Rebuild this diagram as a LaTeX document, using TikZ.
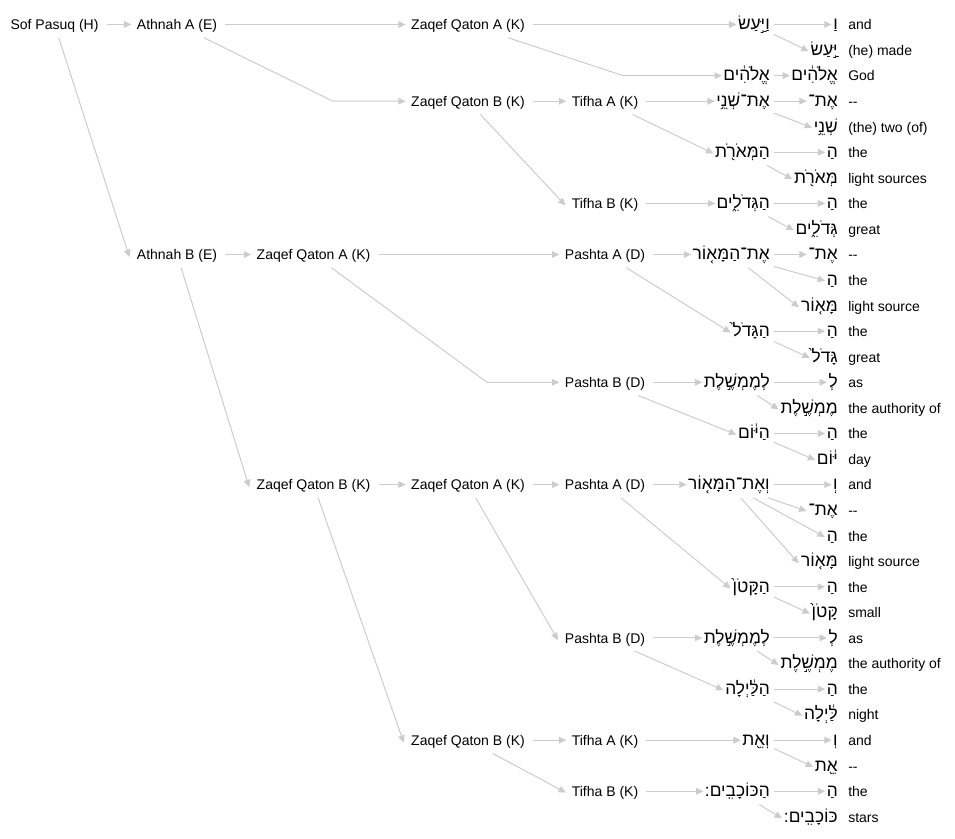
\documentclass[tikz,border=0pt]{standalone}
\usepackage{fontspec}
\setmainfont{Liberation Sans}
\newfontfamily\hebfont[Script=Hebrew]{Liberation Sans}
\TeXXeTstate=1
\usepackage{tikz}
\usetikzlibrary{
  arrows.meta,
  positioning
}
\newcommand{\hw}[1]{\beginR#1\endR}

\begin{document}
\begin{tikzpicture}[
      x=0.75pt, y=-0.75pt,
      >={Triangle[length=5.5pt,width=5pt]},
      lab/.style={inner xsep=6pt, inner ysep=0pt, minimum height=19.5pt, text height=9.5pt, text depth=1.5pt, font=\fontsize{10.5}{12}\selectfont},
      heb/.style={lab, inner xsep=3pt, font=\fontsize{13}{15}\hebfont},
      gloss/.style={inner sep=0pt, text height=9.5pt, text depth=1.5pt, font=\fontsize{10.5}{12}\selectfont},
      edge/.style={->, draw=gray!40, line width=0.75pt, shorten >=-2pt}
  ]
      \useasboundingbox (0,0) rectangle (955,838);

      % Acentos (arvore)
      \node[lab] (sof) at (54.5,24.5) {Sof Pasuq (H)};
      \node[lab] (athA) at (177,24.5) {Athnah A (E)};
      \node[lab] (athB) at (177,254.5) {Athnah B (E)};
      \node[lab] (zqA1) at (468,24.5) {Zaqef Qaton A (K)};
      \node[lab] (zqB1) at (468,101.2) {Zaqef Qaton B (K)};
      \node[lab] (tifA1) at (605,101.2) {Tifha A (K)};
      \node[lab] (tifB1) at (605,203.4) {Tifha B (K)};
      \node[lab] (zqA2) at (313.5,254.5) {Zaqef Qaton A (K)};
      \node[lab] (pasA1) at (605,254.5) {Pashta A (D)};
      \node[lab] (pasB1) at (605,382.3) {Pashta B (D)};
      \node[lab] (zqB2) at (313.5,484.6) {Zaqef Qaton B (K)};
      \node[lab] (zqA3) at (468,484.6) {Zaqef Qaton A (K)};
      \node[lab] (pasA2) at (605,484.6) {Pashta A (D)};
      \node[lab] (pasB2) at (605,637.9) {Pashta B (D)};
      \node[lab] (zqB3) at (468,740.2) {Zaqef Qaton B (K)};
      \node[lab] (tifA2) at (605,740.2) {Tifha A (K)};
      \node[lab] (tifB2) at (605,791.3) {Tifha B (K)};

      % Palavras
      \node[heb, anchor=east] (w1) at (774,24.5) {\hw{וַיַּ֣עַשׂ}};
      \node[heb, anchor=east] (w2) at (774,75.6) {\hw{אֱלֹהִ֔ים}};
      \node[heb, anchor=east] (w3) at (774,101.2) {\hw{אֶת־שְׁנֵ֥י}};
      \node[heb, anchor=east] (w4) at (774,152.3) {\hw{הַמְּאֹרֹ֖ת}};
      \node[heb, anchor=east] (w5) at (774,203.4) {\hw{הַגְּדֹלִ֑ים}};
      \node[heb, anchor=east] (w6) at (774,254.5) {\hw{אֶת־הַמָּא֤וֹר}};
      \node[heb, anchor=east] (w7) at (774,331.2) {\hw{הַגָּדֹל֙}};
      \node[heb, anchor=east] (w8) at (774,382.3) {\hw{לְמֶמְשֶׁ֣לֶת}};
      \node[heb, anchor=east] (w9) at (774,433.5) {\hw{הַיּ֔וֹם}};
      \node[heb, anchor=east] (w10) at (774,484.6) {\hw{וְאֶת־הַמָּא֤וֹר}};
      \node[heb, anchor=east] (w11) at (774,586.8) {\hw{הַקָּטֹן֙}};
      \node[heb, anchor=east] (w12) at (774,637.9) {\hw{לְמֶמְשֶׁ֣לֶת}};
      \node[heb, anchor=east] (w13) at (774,689.1) {\hw{הַלַּ֔יְלָה}};
      \node[heb, anchor=east] (w14) at (774,740.2) {\hw{וְאֵ֖ת}};
      \node[heb, anchor=east] (w15) at (774,791.3) {\hw{הַכּוֹכָבִֽים:}};

      % Morfemas e glosas
      \node[heb, anchor=east] (m0) at (842,24.5) {\hw{וַ}};
      \node[gloss, right=4.5pt of m0] (g0) {and};
      \node[heb, anchor=east] (m1) at (842,50.1) {\hw{יַּ֣עַשׂ}};
      \node[gloss, right=4.5pt of m1] (g1) {(he) made};
      \node[heb, anchor=east] (m2) at (842,75.6) {\hw{אֱלֹהִ֔ים}};
      \node[gloss, right=4.5pt of m2] (g2) {God};
      \node[heb, anchor=east] (m3) at (842,101.2) {\hw{אֶת־}};
      \node[gloss, right=4.5pt of m3] (g3) {{-}{-}};
      \node[heb, anchor=east] (m4) at (842,126.7) {\hw{שְׁנֵ֥י}};
      \node[gloss, right=4.5pt of m4] (g4) {(the) two (of)};
      \node[heb, anchor=east] (m5) at (842,152.3) {\hw{הַ}};
      \node[gloss, right=4.5pt of m5] (g5) {the};
      \node[heb, anchor=east] (m6) at (842,177.9) {\hw{מְּאֹרֹ֖ת}};
      \node[gloss, right=4.5pt of m6] (g6) {light sources};
      \node[heb, anchor=east] (m7) at (842,203.4) {\hw{הַ}};
      \node[gloss, right=4.5pt of m7] (g7) {the};
      \node[heb, anchor=east] (m8) at (842,229.0) {\hw{גְּדֹלִ֑ים}};
      \node[gloss, right=4.5pt of m8] (g8) {great};
      \node[heb, anchor=east] (m9) at (842,254.5) {\hw{אֶת־}};
      \node[gloss, right=4.5pt of m9] (g9) {{-}{-}};
      \node[heb, anchor=east] (m10) at (842,280.1) {\hw{הַ}};
      \node[gloss, right=4.5pt of m10] (g10) {the};
      \node[heb, anchor=east] (m11) at (842,305.7) {\hw{מָּא֤וֹר}};
      \node[gloss, right=4.5pt of m11] (g11) {light source};
      \node[heb, anchor=east] (m12) at (842,331.2) {\hw{הַ}};
      \node[gloss, right=4.5pt of m12] (g12) {the};
      \node[heb, anchor=east] (m13) at (842,356.8) {\hw{גָּדֹל֙}};
      \node[gloss, right=4.5pt of m13] (g13) {great};
      \node[heb, anchor=east] (m14) at (842,382.3) {\hw{לְ}};
      \node[gloss, right=4.5pt of m14] (g14) {as};
      \node[heb, anchor=east] (m15) at (842,407.9) {\hw{מֶמְשֶׁ֣לֶת}};
      \node[gloss, right=4.5pt of m15] (g15) {the authority of};
      \node[heb, anchor=east] (m16) at (842,433.5) {\hw{הַ}};
      \node[gloss, right=4.5pt of m16] (g16) {the};
      \node[heb, anchor=east] (m17) at (842,459.0) {\hw{יּ֔וֹם}};
      \node[gloss, right=4.5pt of m17] (g17) {day};
      \node[heb, anchor=east] (m18) at (842,484.6) {\hw{וְ}};
      \node[gloss, right=4.5pt of m18] (g18) {and};
      \node[heb, anchor=east] (m19) at (842,510.1) {\hw{אֶת־}};
      \node[gloss, right=4.5pt of m19] (g19) {{-}{-}};
      \node[heb, anchor=east] (m20) at (842,535.7) {\hw{הַ}};
      \node[gloss, right=4.5pt of m20] (g20) {the};
      \node[heb, anchor=east] (m21) at (842,561.3) {\hw{מָּא֤וֹר}};
      \node[gloss, right=4.5pt of m21] (g21) {light source};
      \node[heb, anchor=east] (m22) at (842,586.8) {\hw{הַ}};
      \node[gloss, right=4.5pt of m22] (g22) {the};
      \node[heb, anchor=east] (m23) at (842,612.4) {\hw{קָּטֹן֙}};
      \node[gloss, right=4.5pt of m23] (g23) {small};
      \node[heb, anchor=east] (m24) at (842,637.9) {\hw{לְ}};
      \node[gloss, right=4.5pt of m24] (g24) {as};
      \node[heb, anchor=east] (m25) at (842,663.5) {\hw{מֶמְשֶׁ֣לֶת}};
      \node[gloss, right=4.5pt of m25] (g25) {the authority of};
      \node[heb, anchor=east] (m26) at (842,689.1) {\hw{הַ}};
      \node[gloss, right=4.5pt of m26] (g26) {the};
      \node[heb, anchor=east] (m27) at (842,714.6) {\hw{לַּ֔יְלָה}};
      \node[gloss, right=4.5pt of m27] (g27) {night};
      \node[heb, anchor=east] (m28) at (842,740.2) {\hw{וְ}};
      \node[gloss, right=4.5pt of m28] (g28) {and};
      \node[heb, anchor=east] (m29) at (842,765.7) {\hw{אֵ֖ת}};
      \node[gloss, right=4.5pt of m29] (g29) {{-}{-}};
      \node[heb, anchor=east] (m30) at (842,791.3) {\hw{הַ}};
      \node[gloss, right=4.5pt of m30] (g30) {the};
      \node[heb, anchor=east] (m31) at (842,816.9) {\hw{כּוֹכָבִֽים:}};
      \node[gloss, right=4.5pt of m31] (g31) {stars};

      % Setas da arvore
      \draw[edge] (sof) -- (athA);
      \draw[edge] (sof) -- (athB.west);
      \draw[edge] (athA) -- (zqA1);
      \draw[edge] (athA) -- (333,101.2) -- (zqB1);
      \draw[edge] (zqA1) -- (w1);
      \draw[edge] (zqA1) -- (623,75.6) -- (w2);
      \draw[edge] (zqB1) -- (tifA1);
      \draw[edge] (zqB1) -- (tifB1.west);
      \draw[edge] (tifA1) -- (w3);
      \draw[edge] (tifA1) -- (w4.west);
      \draw[edge] (tifB1) -- (w5);
      \draw[edge] (athB) -- (zqA2);
      \draw[edge] (athB) -- (zqB2.west);
      \draw[edge] (zqA2) -- (pasA1);
      \draw[edge] (zqA2) -- (487,382.3) -- (pasB1);
      \draw[edge] (pasA1) -- (w6);
      \draw[edge] (pasA1) -- (w7.west);
      \draw[edge] (pasB1) -- (w8);
      \draw[edge] (pasB1) -- (w9.west);
      \draw[edge] (zqB2) -- (zqA3);
      \draw[edge] (zqB2) -- (zqB3.west);
      \draw[edge] (zqA3) -- (pasA2);
      \draw[edge] (zqA3) -- (pasB2.west);
      \draw[edge] (pasA2) -- (w10);
      \draw[edge] (pasA2) -- (w11.west);
      \draw[edge] (pasB2) -- (w12);
      \draw[edge] (pasB2) -- (w13.west);
      \draw[edge] (zqB3) -- (tifA2);
      \draw[edge] (zqB3) -- (tifB2.west);
      \draw[edge] (tifA2) -- (w14);
      \draw[edge] (tifB2) -- (w15);

      % Setas das palavras
      \draw[edge] (w1) -- (m0);
      \draw[edge] (w1) -- (m1.west);
      \draw[edge] (w2) -- (m2);
      \draw[edge] (w3) -- (m3);
      \draw[edge] (w3) -- (m4.west);
      \draw[edge] (w4) -- (m5);
      \draw[edge] (w4) -- (m6.west);
      \draw[edge] (w5) -- (m7);
      \draw[edge] (w5) -- (m8.west);
      \draw[edge] (w6) -- (m9);
      \draw[edge] (w6) -- (m10.west);
      \draw[edge] (w6) -- (m11.west);
      \draw[edge] (w7) -- (m12);
      \draw[edge] (w7) -- (m13.west);
      \draw[edge] (w8) -- (m14);
      \draw[edge] (w8) -- (m15.west);
      \draw[edge] (w9) -- (m16);
      \draw[edge] (w9) -- (m17.west);
      \draw[edge] (w10) -- (m18);
      \draw[edge] (w10) -- (m19.west);
      \draw[edge] (w10) -- (m20.west);
      \draw[edge] (w10) -- (m21.west);
      \draw[edge] (w11) -- (m22);
      \draw[edge] (w11) -- (m23.west);
      \draw[edge] (w12) -- (m24);
      \draw[edge] (w12) -- (m25.west);
      \draw[edge] (w13) -- (m26);
      \draw[edge] (w13) -- (m27.west);
      \draw[edge] (w14) -- (m28);
      \draw[edge] (w14) -- (m29.west);
      \draw[edge] (w15) -- (m30);
      \draw[edge] (w15) -- (m31.west);

  \end{tikzpicture}
\end{document}
